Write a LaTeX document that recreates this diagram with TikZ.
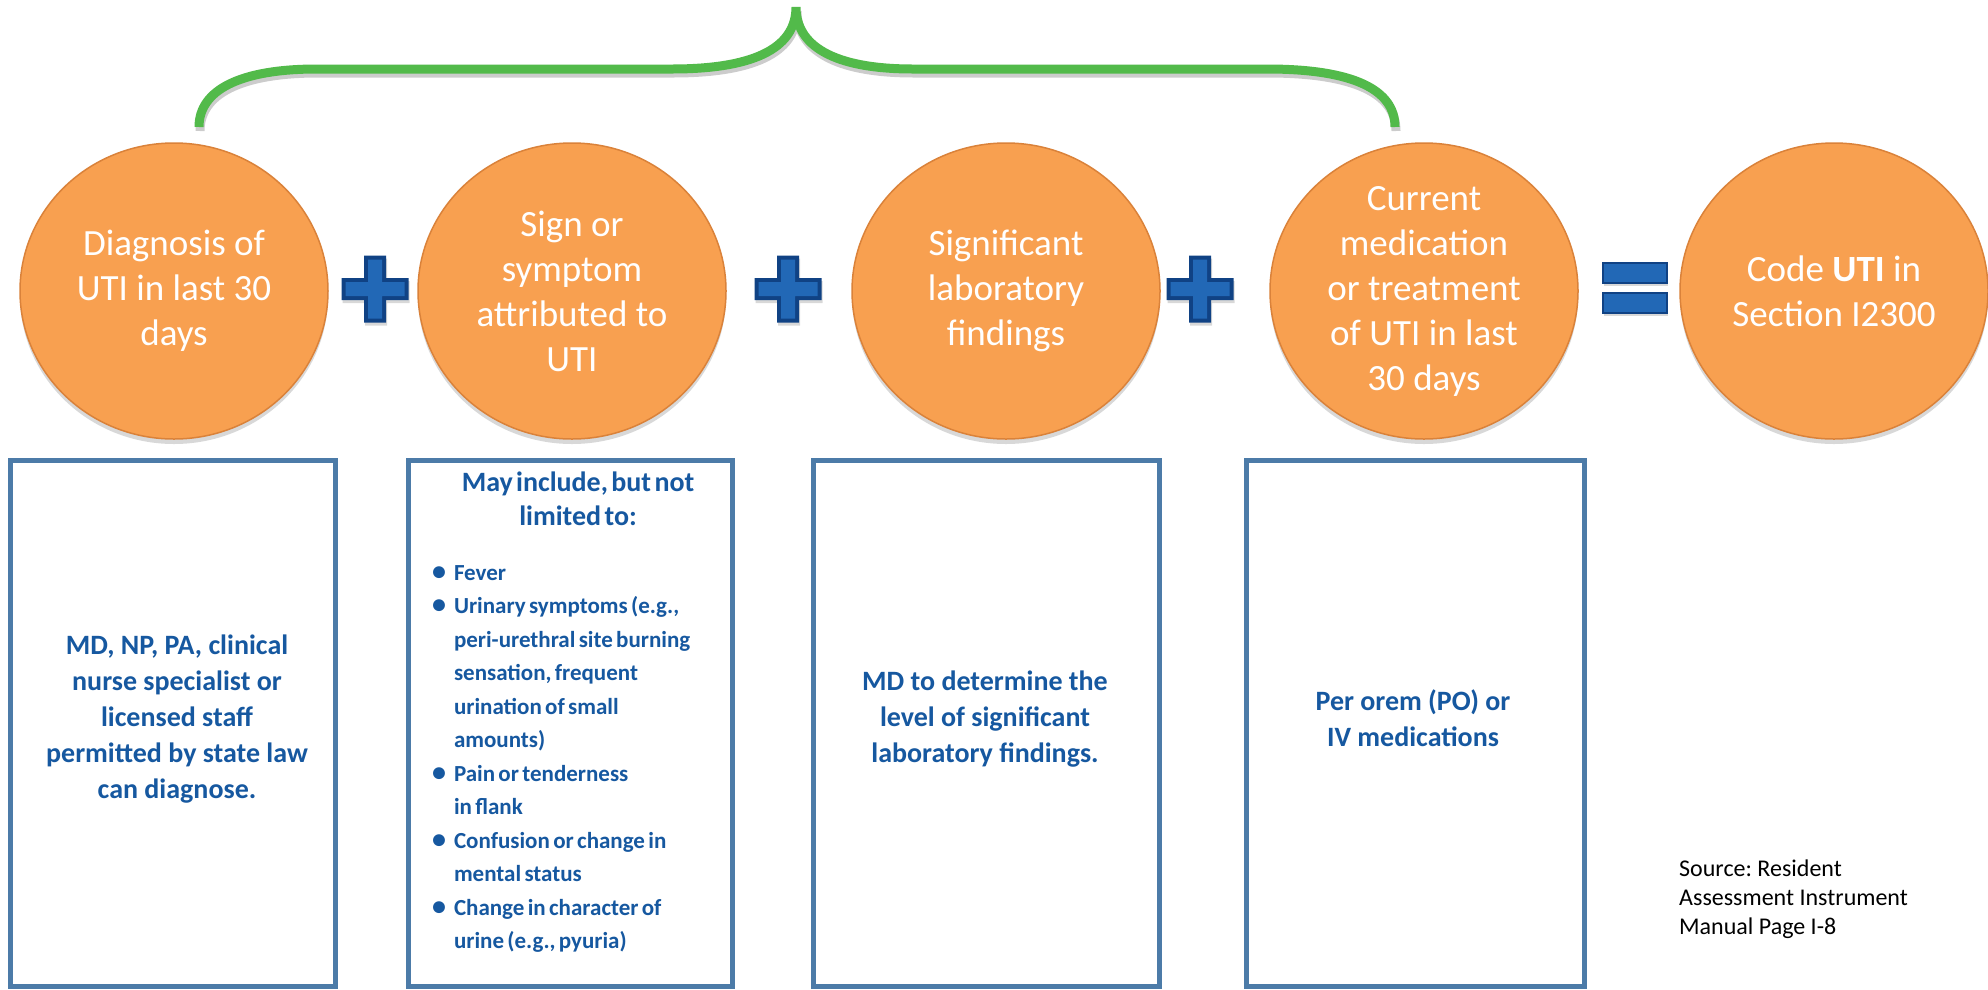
\documentclass[tikz,border=0pt]{standalone}
\usepackage{fontspec}
\setmainfont{Carlito}
\usepackage{tikz}
\usetikzlibrary{arrows,shapes,positioning,shadows,calc}
\usepackage{xcolor}
\definecolor{utorange}{RGB}{248,160,80}
\definecolor{utrim}{RGB}{218,130,58}
\definecolor{utblue}{RGB}{34,104,182}
\definecolor{utdarkblue}{RGB}{16,66,132}
\definecolor{utgreen}{RGB}{82,186,74}
\definecolor{utsteel}{RGB}{76,123,168}
\definecolor{uttext}{RGB}{22,88,160}
\tikzstyle{stepcircle} = [ellipse, minimum width=308pt, minimum height=296pt, inner sep=-12pt, outer sep=0pt, fill=utorange, draw=utrim, line width=1.5pt, text=white, align=center, font=\fontsize{37}{45}\selectfont, drop shadow={shadow xshift=0pt, shadow yshift=-5pt, opacity=.3}]
\tikzstyle{infobox} = [rectangle, minimum height=526pt, inner sep=0pt, outer sep=0pt, draw=utsteel, line width=5pt, fill=white, drop shadow={shadow xshift=2pt, shadow yshift=-2pt, opacity=.2}]
\tikzstyle{infotext} = [text=uttext, align=center, inner sep=0pt, font=\fontsize{28}{36}\selectfont\bfseries]
\tikzstyle{mathbar} = [rectangle, minimum width=64pt, minimum height=20pt, inner sep=0pt, outer sep=0pt, fill=utblue, draw=utdarkblue, line width=2pt, drop shadow={shadow xshift=1pt, shadow yshift=-3pt, opacity=.3}]
\newcommand{\listitem}[1]{\par\hangindent=22pt\hangafter=1\noindent\makebox[22pt][l]{{\fontsize{28}{28}\selectfont\textbullet}}#1}

\begin{document}
\frenchspacing
\begin{tikzpicture}[x=1pt, y=-1pt]
\fill[white] (0,0) rectangle (1988,989);
\useasboundingbox (0,0) rectangle (1988,989);

% Brace over the first four steps
\coordinate (braceL) at (199,127);
\coordinate (braceTip) at (796,7);
\coordinate (braceR) at (1395,127);
\draw[utgreen, line width=9pt, preaction={draw, black, opacity=.2, line width=9pt, transform canvas={xshift=1pt, yshift=-4pt}}]
  (braceL) .. controls (199,90) and (240,69) .. (317,69) -- (672,69)
  .. controls (760,69) and (796,45) .. (braceTip)
  .. controls (796,45) and (832,69) .. (913,69) -- (1267,69)
  .. controls (1354,69) and (1395,90) .. (braceR);

% Steps
\node[stepcircle] (diag) at (174,291) {Diagnosis of\\UTI in last 30\\days};
\node[stepcircle, right=90pt of diag] (sign) {Sign or\\symptom\\attributed to\\UTI};
\node[stepcircle, right=126pt of sign] (lab) {Significant\\laboratory\\findings};
\node[stepcircle, right=110pt of lab] (med) {Current\\medication\\or treatment\\of UTI in last\\30 days};
\node[stepcircle, right=102pt of med] (code) {Code \textbf{UTI} in\\Section I2300};

% Plus signs
\foreach \px/\nm in {375/diag, 788/sign, 1200/lab} {
  \coordinate (plus-\nm) at (\px,289);
  \begin{scope}[shift={(plus-\nm)}]
    \fill[utdarkblue, drop shadow={shadow xshift=1pt, shadow yshift=-3pt, opacity=.3}]
      (-11,-33.5) -- (11,-33.5) -- (11,-11) -- (33.5,-11) -- (33.5,11) -- (11,11)
      -- (11,33.5) -- (-11,33.5) -- (-11,11) -- (-33.5,11) -- (-33.5,-11) -- (-11,-11) -- cycle;
    \fill[utblue]
      (-7,-29.5) -- (7,-29.5) -- (7,-7) -- (29.5,-7) -- (29.5,7) -- (7,7)
      -- (7,29.5) -- (-7,29.5) -- (-7,7) -- (-29.5,7) -- (-29.5,-7) -- (-7,-7) -- cycle;
  \end{scope}
}

% Equals sign
\node[mathbar] (eqtop) at (1635,273) {};
\node[mathbar, below=10pt of eqtop] (eqbot) {};

% Boxes
\node[infobox, minimum width=325pt] (diagbox) at (172.5,723) {};
\node[infobox, minimum width=324pt] (signbox) at (570,723) {};
\node[infobox, minimum width=346pt] (labbox) at (986,723) {};
\node[infobox, minimum width=338pt] (medbox) at (1415,723) {};

\node[infotext] (diagtext) at (177,719) {MD, NP, PA, clinical\\nurse specialist or\\licensed staff\\permitted by state law\\can diagnose.};
\node[infotext] (labtext) at (985,719) {MD to determine the\\level of significant\\laboratory findings.};
\node[infotext] (medtext) at (1413,718) {Per orem (PO) or\\IV medications};

\node[text=uttext, text width=292pt, inner sep=0pt, anchor=north, font=\bfseries] (signlist) at (578,472) {%
{\centering\fontsize{28}{34}\selectfont May include, but not\\limited to:\par}
\vspace{21pt}
{\raggedright\fontsize{23}{33.5}\selectfont
\listitem{Fever}
\listitem{Urinary symptoms (e.g.,\newline peri-urethral site burning\newline sensation, frequent\newline urination of small\newline amounts)}
\listitem{Pain or tenderness\newline in flank}
\listitem{Confusion or change in\newline mental status}
\listitem{Change in character of\newline urine (e.g., pyuria)}
\par}};

% Source
\node[anchor=north west, align=left, inner sep=0pt, font=\fontsize{24}{29}\selectfont] (source) at (1679,860) {Source: Resident\\Assessment Instrument\\Manual Page I-8};
\end{tikzpicture}
\end{document}
